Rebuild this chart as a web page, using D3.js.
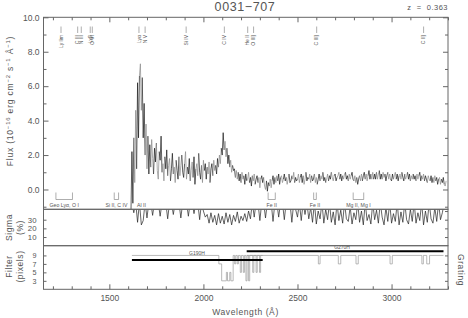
<!DOCTYPE html>
<html><head><meta charset="utf-8">
<script src="https://cdn.jsdelivr.net/npm/d3@7"></script>
<style>
body{margin:0;background:#fff;}
svg{display:block;font-family:"Liberation Sans",Arial,sans-serif;}
</style></head><body>
<svg id="c" width="468" height="318"></svg>
<script>
// ---------------- data ----------------
const title = "0031\u2212707";
const redshiftLabel = "z  =  0.363";
const redshift = 0.363;

const fluxStart = 1615, fluxStep = 5;
const flux = [
 -1.3, 2.2, -0.8, 3.0, 0.4, 4.6, 1.2, 6.2, 3.0, 6.6, 7.3, 4.6, 6.5, 3.0, 5.0, 2.0, 3.8, 1.2, 3.1, 0.9,
 2.6, 1.3, 2.9, 1.8, 0.9, 2.4, 1.6, 2.7, 1.1, 0.6, 2.2, 1.7, 3.1, 1.0, 1.5, 0.5, 1.9, 1.2, 2.3, 0.8,
 1.4, 1.8, 0.5, 1.2, 2.1, 0.9, 1.3, 0.4, 1.7, 1.1, 0.6, 1.9, 0.8, 1.4, 2.0, 1.0, 0.7, 1.5, 2.2, 0.6,
 1.3, 0.9, 1.8, 0.5, 1.1, 1.6, 0.7, 1.9, 0.3, 1.2, 1.5, 0.8, 2.1, 1.0, 0.6, 1.4, 0.4, 1.7, 1.1, 1.5,
 0.6, 1.3, 0.9, 1.6, 0.4, 1.2, 1.5, 0.8, 1.7, 1.1, 1.4, 0.9, 1.8, 1.3, 2.0, 1.5, 2.4, 2.0, 3.3, 2.3,
 2.8, 1.9, 2.4, 1.5, 2.0, 1.3, 1.7, 1.0, 1.4, 1.1, 1.2, 0.7, 1.1, 0.6, 1.0, 0.5, 0.9, 0.4, 1.0, 0.6,
 0.8, 0.3, 0.9, 0.5, 0.6, 1.0, 0.4, 0.7, 0.2, 0.8, 0.5, 0.9, 0.3, 0.6, 0.8, 0.4, 0.7, 0.1, 0.6, 0.8,
 0.4, 0.7, 0.2, 0.0, 0.5, -0.1, 0.4, 0.2, 0.6, 0.1, 0.5, 0.8, 0.3, 0.7, 0.4, 0.8, 0.5, 0.9, 0.3, 0.7,
 0.8, 0.4, 0.6, 0.9, 0.5, 0.7, 0.3, 0.6, 0.9, 0.4, 0.5, 0.8, 0.6, 1.0, 0.4, 0.7, 0.5, 0.6, 0.9, 0.4,
 0.7, 0.9, 0.4, 0.8, 0.3, 0.6, 1.0, 0.5, 0.7, 0.6, 0.9, 0.4, 0.8, 0.5, 0.6, 0.9, 0.4, 0.7, 0.3, 0.6,
 0.9, 0.5, 0.8, 0.6, 1.0, 0.5, 0.7, 0.4, 0.6, 0.9, 0.5, 0.8, 0.6, 1.0, 0.7, 0.5, 0.8, 0.9, 0.5, 0.7,
 0.8, 1.0, 0.6, 0.9, 0.5, 0.8, 0.6, 0.9, 1.0, 0.6, 0.8, 0.5, 0.9, 0.6, 0.8, 1.0, 0.6, 0.5, 0.8, 0.4,
 0.7, 0.3, 0.6, 0.8, 0.5, 0.9, 0.5, 0.8, 1.0, 0.6, 0.9, 0.5, 0.8, 1.1, 0.6, 0.9, 0.6, 1.0, 0.6, 0.9,
 0.6, 1.0, 0.6, 0.9, 1.1, 0.6, 0.9, 0.6, 1.0, 0.7, 0.9, 0.5, 0.8, 1.0, 0.6, 0.9, 0.6, 0.5, 0.9, 0.6,
 0.8, 1.0, 0.6, 0.9, 0.5, 0.8, 0.9, 0.6, 1.0, 0.7, 0.5, 0.9, 0.6, 0.8, 1.0, 0.6, 0.9, 0.5, 0.8, 0.6,
 0.9, 0.6, 0.8, 0.5, 0.9, 0.6, 0.8, 1.0, 0.5, 0.8, 0.6, 0.9, 0.5, 0.8, 0.6, 0.4, 0.8, 0.6, 0.5, 0.8,
 0.4, 0.7, 0.4, 0.8, 0.5, 0.7, 0.3, 0.6, 0.7, 0.3, 0.6, 0.4, 0.7, 0.3, 0.2, 0.5
];

const sigmaStart = 1620, sigmaStep = 10;
const sigma = [
 50, 38, 50, 27, 50, 24, 29, 50, 32, 50, 50, 35, 50, 50, 50, 34, 50, 50, 50, 31,
 50, 50, 36, 50, 50, 50, 32, 50, 50, 50, 34, 50, 50, 37, 50, 50, 30, 50, 40, 33,
 36, 26, 38, 27, 35, 24, 37, 26, 34, 25, 38, 27, 36, 24, 35, 28, 39, 26, 34, 29,
 37, 28, 40, 31, 50, 33, 50, 50, 29, 50, 50, 32, 50, 50, 50, 28, 50, 50, 33, 50,
 50, 30, 50, 50, 50, 27, 50, 42, 33, 50, 29, 50, 36, 50, 31, 44, 27, 50, 25, 40,
 31, 50, 26, 42, 30, 50, 27, 39, 24, 50, 29, 41, 26, 50, 31, 28, 45, 25, 38, 30,
 50, 27, 40, 24, 50, 29, 36, 25, 50, 30, 41, 26, 50, 33, 24, 44, 28, 50, 26, 37,
 28, 50, 24, 39, 27, 50, 30, 25, 42, 28, 50, 26, 38, 29, 50, 24, 40, 27, 50, 31,
 26, 44, 28, 50, 30, 38, 50
];

// filter width (pixels) step functions
const g190hWave = [1620, 2082, 2097, 2122, 2128, 2140, 2146, 2158, 2166, 2172, 2180, 2186, 2196, 2202, 2212, 2218, 2226, 2232, 2240, 2246, 2262, 2268, 2280, 2286, 2298, 2304, 2315];
const g190hFilt = [9, 7, 3, 5, 3, 5, 3, 9, 7, 9, 7, 9, 5, 9, 5, 9, 3, 9, 3, 9, 5, 9, 5, 9, 5, 9, 9];
const g270hWave = [2230, 2611, 2620, 2717, 2730, 2811, 2823, 2992, 3004, 3161, 3169, 3187, 3202, 3276];
const g270hFilt = [9, 7, 9, 7, 9, 7, 9, 7, 9, 7, 9, 7, 9, 9];

// grating coverage
const gratingNames = ["G190H", "G270H"];
const gratingStart = [1620, 2230];
const gratingEnd = [2315, 3276];
const gratingLevel = [7.9, 10.0];
const gratingLabelWave = [1966, 2737];
const gratingLabelLevel = [9.15, 10.6];

// emission line IDs (rest wavelengths)
const emLabels = ["Ly lim", "C III", "N III", "Ly\u03b2", "O VI", "Ly\u03b1", "N V", "Si IV", "C IV", "He II", "O III]", "C III]", "C II]"];
const emRest = [912, 977, 991, 1026, 1034, 1216, 1240, 1400, 1549, 1640, 1663, 1909, 2326];

// Galactic / ISM features (observed)
const ismLabels = ["Geo Ly\u03b1, O I", "Si II, C IV", "Al II", "Fe II", "Fe II", "Mg II, Mg I"];
const ismLo = [1216, 1526, 1671, 2344, 2586, 2796];
const ismHi = [1304, 1549, 1671, 2382, 2600, 2852];

const xMajor = [1500, 2000, 2500, 3000];
const fluxMajor = [0, 2, 4, 6, 8, 10];
const fluxMinor = [-1, 1, 3, 5, 7, 9];
const sigmaTicks = [10, 20, 30];
const filterTicks = [3, 5, 7, 9];

// ---------------- layout ----------------
const L = 43.5, R = 448;
const T1 = 17.3, B1 = 209.3, B2 = 245.7, B3 = 289.3;
const AX = "#666", TX = "#555";

const svg = d3.select("#c");
const x = d3.scaleLinear().domain([1150, 3300]).range([L, R]);
const yF = d3.scaleLinear().domain([-1.15, 10]).range([B1, T1]);
const yS = d3.scaleLinear().domain([0, 42]).range([B2, B1]);
const yP = d3.scaleLinear().domain([1, 11.3]).range([B3, B2]);

const defs = svg.append("defs");
function clip(id, y0, y1) {
  defs.append("clipPath").attr("id", id).append("rect")
    .attr("x", L).attr("y", y0).attr("width", R - L).attr("height", y1 - y0);
}
clip("c1", T1, B1); clip("c2", B1, B2); clip("c3", B2, B3);

// ---------------- spectrum ----------------
const specPts = flux.map((f, i) => [fluxStart + i * fluxStep, f]);
const line = d3.line().x(d => x(d[0]));
const gSpec = svg.append("g").attr("clip-path", "url(#c1)");
const chunk = 3;
for (let s = 0; s < specPts.length - 1; s += chunk) {
  const seg = specPts.slice(s, Math.min(s + chunk + 1, specPts.length));
  gSpec.append("path")
    .attr("d", line.y(d => yF(d[1]))(seg))
    .attr("fill", "none")
    .attr("stroke", (s / chunk) % 2 === 0 ? "#1a1a1a" : "#8a8a8a")
    .attr("stroke-width", 0.7);
}

// sigma
const sigPts = sigma.map((v, i) => [sigmaStart + i * sigmaStep, v]);
svg.append("g").attr("clip-path", "url(#c2)").append("path")
  .attr("d", d3.line().x(d => x(d[0])).y(d => yS(d[1]))(sigPts))
  .attr("fill", "none").attr("stroke", "#222").attr("stroke-width", 0.7);

// filter width
const g3 = svg.append("g").attr("clip-path", "url(#c3)");
const stepLine = d3.line().x(d => x(d[0])).y(d => yP(d[1])).curve(d3.curveStepAfter);
[[g190hWave, g190hFilt], [g270hWave, g270hFilt]].forEach(([w, f]) => {
  g3.append("path").attr("d", stepLine(w.map((v, i) => [v, f[i]])))
    .attr("fill", "none").attr("stroke", "#999").attr("stroke-width", 0.7);
});
gratingNames.forEach((n, i) => {
  g3.append("line")
    .attr("x1", x(gratingStart[i])).attr("x2", x(gratingEnd[i]))
    .attr("y1", yP(gratingLevel[i])).attr("y2", yP(gratingLevel[i]))
    .attr("stroke", "#000").attr("stroke-width", 2);
  svg.append("text").attr("x", x(gratingLabelWave[i])).attr("y", yP(gratingLabelLevel[i]))
    .attr("text-anchor", "middle").attr("font-size", 5).attr("fill", TX).text(n);
});

// ---------------- annotations ----------------
emRest.forEach((r, i) => {
  const xx = x(r * (1 + redshift));
  svg.append("line").attr("x1", xx).attr("x2", xx).attr("y1", 26.5).attr("y2", 33)
    .attr("stroke", "#777").attr("stroke-width", 0.6);
  svg.append("text").attr("transform", `translate(${xx + 1.8},35) rotate(-90)`)
    .attr("text-anchor", "end").attr("font-size", 5).attr("fill", TX).text(emLabels[i]);
});

ismLabels.forEach((lab, i) => {
  const a = x(ismLo[i]), b = x(ismHi[i]);
  if (ismHi[i] > ismLo[i]) {
    svg.append("path").attr("d", `M${a},192.5V199.5H${b}V192.5`)
      .attr("fill", "none").attr("stroke", "#777").attr("stroke-width", 0.6);
  }
  svg.append("text").attr("x", (a + b) / 2).attr("y", 206.8)
    .attr("text-anchor", "middle").attr("font-size", 5.2).attr("fill", TX).text(lab);
});

// ---------------- axes ----------------
function styleAxis(g) {
  g.select(".domain").attr("stroke", AX);
  g.selectAll(".tick line").attr("stroke", AX);
  g.selectAll(".tick text").attr("fill", TX).attr("font-family", "Liberation Sans, Arial, sans-serif");
}
const xMinor = d3.range(1200, 3301, 100).filter(v => !xMajor.includes(v));

// panel frames
[[T1, B1], [B1, B2], [B2, B3]].forEach(([a, b]) => {
  svg.append("rect").attr("x", L).attr("y", a).attr("width", R - L).attr("height", b - a)
    .attr("fill", "none").attr("stroke", AX).attr("stroke-width", 1);
});

// top axis (ticks only)
svg.append("g").attr("transform", `translate(0,${T1})`)
  .call(d3.axisTop(x).tickValues(xMajor).tickSize(-5).tickFormat("")).call(styleAxis);
svg.append("g").attr("transform", `translate(0,${T1})`)
  .call(d3.axisTop(x).tickValues(xMinor).tickSize(-3).tickFormat("")).call(styleAxis);

// bottom axis
svg.append("g").attr("transform", `translate(0,${B3})`)
  .call(d3.axisBottom(x).tickValues(xMajor).tickSize(-5).tickPadding(6).tickFormat(d3.format("d")))
  .call(styleAxis).selectAll("text").attr("font-size", 8.5);
svg.append("g").attr("transform", `translate(0,${B3})`)
  .call(d3.axisBottom(x).tickValues(xMinor).tickSize(-3).tickFormat("")).call(styleAxis);

// flux axes
svg.append("g").attr("transform", `translate(${L},0)`)
  .call(d3.axisLeft(yF).tickValues(fluxMajor).tickSize(-5).tickPadding(4).tickFormat(d3.format(".1f")))
  .call(styleAxis).selectAll("text").attr("font-size", 8.5);
svg.append("g").attr("transform", `translate(${L},0)`)
  .call(d3.axisLeft(yF).tickValues(fluxMinor).tickSize(-3).tickFormat("")).call(styleAxis);
svg.append("g").attr("transform", `translate(${R},0)`)
  .call(d3.axisRight(yF).tickValues(fluxMajor).tickSize(-5).tickFormat("")).call(styleAxis);
svg.append("g").attr("transform", `translate(${R},0)`)
  .call(d3.axisRight(yF).tickValues(fluxMinor).tickSize(-3).tickFormat("")).call(styleAxis);

// sigma axes
svg.append("g").attr("transform", `translate(${L},0)`)
  .call(d3.axisLeft(yS).tickValues(sigmaTicks).tickSize(-3).tickPadding(7).tickFormat(d3.format("d")))
  .call(styleAxis).selectAll("text").attr("font-size", 7.8);
svg.append("g").attr("transform", `translate(${R},0)`)
  .call(d3.axisRight(yS).tickValues([10, 20, 30, 40]).tickSize(-3).tickFormat("")).call(styleAxis);

// filter axes
svg.append("g").attr("transform", `translate(${L},0)`)
  .call(d3.axisLeft(yP).tickValues(filterTicks).tickSize(-3).tickPadding(7).tickFormat(d3.format("d")))
  .call(styleAxis).selectAll("text").attr("font-size", 7.2);
svg.append("g").attr("transform", `translate(${R},0)`)
  .call(d3.axisRight(yP).tickValues([3, 5, 7, 9]).tickSize(-3).tickFormat("")).call(styleAxis);

svg.selectAll(".domain").remove();

// ---------------- titles ----------------
svg.append("text").attr("x", 245).attr("y", 10.5).attr("text-anchor", "middle")
  .attr("font-size", 12.5).attr("letter-spacing", 0.6).attr("fill", "#555").text(title);
svg.append("text").attr("x", 448).attr("y", 10).attr("text-anchor", "end")
  .attr("font-size", 7.5).attr("letter-spacing", 0.5).attr("xml:space", "preserve")
  .attr("fill", TX).style("white-space", "pre").text(redshiftLabel);

const yt = svg.append("text").attr("transform", "translate(13,101) rotate(-90)")
  .attr("text-anchor", "middle").attr("font-size", 8.5).attr("letter-spacing", 0.8).attr("fill", TX);
const parts = [["Flux (10", 0], ["\u221216", 1], [" erg cm", 0], ["\u22122", 1], [" s", 0], ["\u22121", 1], [" \u00c5", 0], ["\u22121", 1], [")", 0]];
parts.forEach(([t, sup], i) => {
  const ts = yt.append("tspan").text(t);
  if (sup) ts.attr("font-size", 6).attr("dy", -3.5);
  else if (i > 0) ts.attr("dy", 3.5);
});

function twoLine(lines, cy) {
  lines.forEach((t, i) => {
    svg.append("text").attr("transform", `translate(${12 + i * 10.5},${cy}) rotate(-90)`)
      .attr("text-anchor", "middle").attr("font-size", 8.5).attr("letter-spacing", 0.6)
      .attr("fill", TX).text(t);
  });
}
twoLine(["Sigma", "(%)"], 227.5);
twoLine(["Filter", "(pixels)"], 266.5);

svg.append("text").attr("transform", "translate(458,270) rotate(90)")
  .attr("text-anchor", "middle").attr("font-size", 8.5).attr("letter-spacing", 0.6)
  .attr("fill", TX).text("Grating");

svg.append("text").attr("x", 245.5).attr("y", 314.5).attr("text-anchor", "middle")
  .attr("font-size", 8.5).attr("letter-spacing", 0.6).attr("fill", TX).text("Wavelength (\u00c5)");
</script>
</body></html>
